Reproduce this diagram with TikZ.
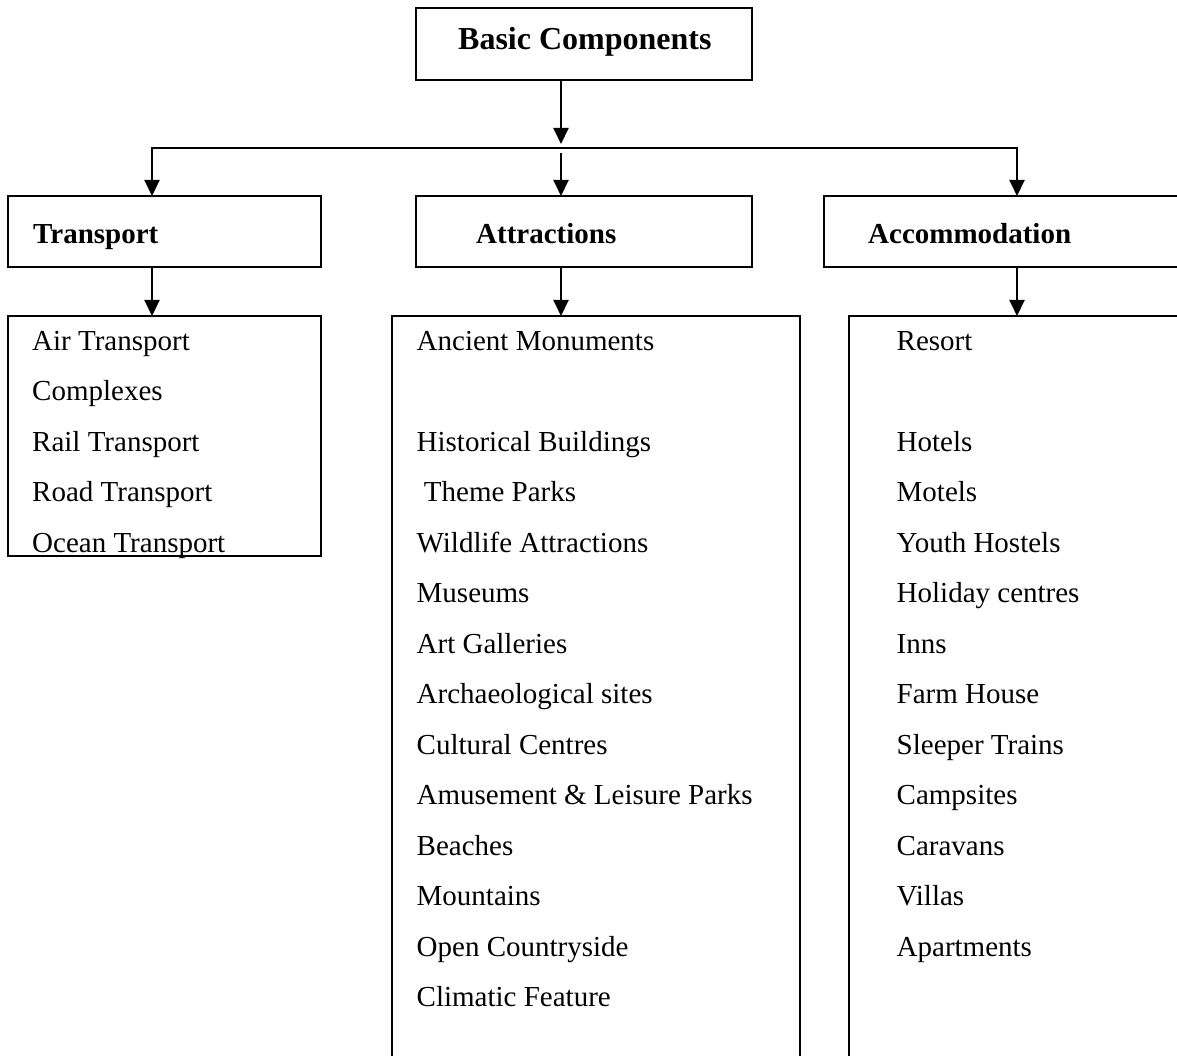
\documentclass[tikz,border=0pt]{standalone}
\usepackage{fontspec}
\setmainfont{Liberation Serif}
\usetikzlibrary{arrows.meta}

\begin{document}
\begin{tikzpicture}[x=1pt,y=-1pt]
  \useasboundingbox (0,0) rectangle (1177,1056);
  \clip (0,0) rectangle (1177,1056);
  \begin{scope}[every node/.style={draw,line width=2pt,inner sep=0pt,outer sep=0pt,anchor=north west}]
    \node[minimum width=336,minimum height=72] (basic) at (416,8) {};
    \node[minimum width=313,minimum height=71] (trans) at (8,196) {};
    \node[minimum width=336,minimum height=71] (attr) at (416,196) {};
    \node[minimum width=400,minimum height=71] (accom) at (824,196) {};
    \node[minimum width=313,minimum height=240] (translist) at (8,316) {};
    \node[minimum width=408,minimum height=780] (attrlist) at (392,316) {};
    \node[minimum width=400,minimum height=780] (accomlist) at (849,316) {};
  \end{scope}
  \begin{scope}[every node/.style={anchor=base west,inner sep=0pt,font=\bfseries\fontsize{29}{35}\selectfont}]
    \node[font=\bfseries\fontsize{32}{38}\selectfont] (basictxt) at (458,49.3) {Basic Components};
    \node (transtxt) at (33,243.3) {Transport};
    \node (attrtxt) at (476,243.3) {Attractions};
    \node (accomtxt) at (868,243.3) {Accommodation};
  \end{scope}
  \begin{scope}[every node/.style={anchor=base west,inner sep=0pt,font=\fontsize{29}{35}\selectfont}]
    \foreach \r/\txt in {0/Air Transport,1/Complexes,2/Rail Transport,3/Road Transport,4/Ocean Transport}
      \node (tr\r) at (32,{350+50.5*\r}) {\txt};
    \foreach \r/\txt in {0/Ancient Monuments,2/Historical Buildings,3/\ Theme Parks,4/Wildlife Attractions,
        5/Museums,6/Art Galleries,7/Archaeological sites,8/Cultural Centres,9/Amusement \& Leisure Parks,
        10/Beaches,11/Mountains,12/Open Countryside,13/Climatic Feature}
      \node (at\r) at (416.5,{350+50.5*\r}) {\txt};
    \foreach \r/\txt in {0/Resort,2/Hotels,3/Motels,4/Youth Hostels,5/Holiday centres,6/Inns,7/Farm House,
        8/Sleeper Trains,9/Campsites,10/Caravans,11/Villas,12/Apartments}
      \node (ac\r) at (896.5,{350+50.5*\r}) {\txt};
  \end{scope}
  \coordinate (hl) at (152,148);
  \coordinate (hm) at (561,148);
  \coordinate (hr) at (1017,148);
  \begin{scope}[line width=2pt,>={Triangle[length=16pt,width=15pt]}]
    \draw[->] (basic.south -| hm) -- ([yshift=4pt]hm);
    \draw[<->] (hl |- trans.north) -- (hl) -- (hr) -- (hr |- accom.north);
    \draw[->] ([yshift=-5pt]hm) -- (hm |- attr.north);
    \draw[->] (trans.south -| hl) -- (hl |- translist.north);
    \draw[->] (attr.south -| hm) -- (hm |- attrlist.north);
    \draw[->] (accom.south -| hr) -- (hr |- accomlist.north);
  \end{scope}
\end{tikzpicture}
\end{document}
